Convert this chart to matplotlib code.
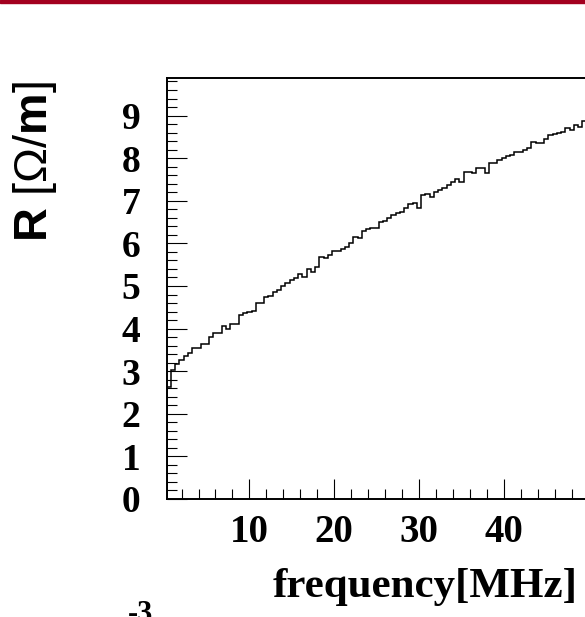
import numpy as np
import matplotlib
matplotlib.use("Agg")
import matplotlib.pyplot as plt
from matplotlib.ticker import MultipleLocator, FixedLocator
from matplotlib.patches import Rectangle

# ---------------- data ----------------
bin_low = 0.25          # MHz, lower edge of first bin
bin_width = 0.5         # MHz
resistance = [
    2.62, 3.03, 3.17, 3.26, 3.36, 3.42, 3.55, 3.55, 3.64, 3.64,
    3.81, 3.90, 3.90, 4.06, 4.00, 4.10, 4.10, 4.33, 4.36, 4.40,
    4.42, 4.59, 4.59, 4.73, 4.77, 4.87, 4.91, 5.01, 5.06, 5.13,
    5.18, 5.28, 5.20, 5.39, 5.34, 5.45, 5.69, 5.65, 5.73, 5.81,
    5.83, 5.86, 5.92, 6.02, 6.15, 6.13, 6.28, 6.33, 6.37, 6.37,
    6.51, 6.53, 6.59, 6.67, 6.72, 6.74, 6.82, 6.92, 6.95, 6.82,
    7.13, 7.15, 7.09, 7.20, 7.26, 7.31, 7.38, 7.45, 7.50, 7.45,
    7.68, 7.68, 7.66, 7.76, 7.78, 7.66, 7.88, 7.89, 7.96, 8.00,
    8.05, 8.08, 8.15, 8.15, 8.19, 8.23, 8.39, 8.36, 8.35, 8.44,
    8.54, 8.56, 8.60, 8.62, 8.70, 8.66, 8.78, 8.74, 8.88, 8.91,
]
x_major_ticks = [10, 20, 30, 40]
y_major_ticks = [0, 1, 2, 3, 4, 5, 6, 7, 8, 9]
x_title = "frequency[MHz]"
y_title = r"$\mathbf{R}\ [\Omega/\mathbf{m}]$"
exponent_text = "-3"

# ---------------- style ----------------
plt.rcParams["mathtext.fontset"] = "custom"
plt.rcParams["mathtext.rm"] = "Liberation Sans"
plt.rcParams["mathtext.bf"] = "Liberation Sans:bold"
plt.rcParams["mathtext.it"] = "Liberation Sans:italic"

W, H = 585, 617
fig = plt.figure(figsize=(W / 100, H / 100), dpi=100)
fig.patch.set_facecolor("white")

edges = bin_low + bin_width * np.arange(len(resistance) + 1)

left_px, top_px, bottom_px = 166.7, 78.3, 499.0
px_per_unit_x = 8.48
right_px = left_px + (edges[-1] - edges[0]) * px_per_unit_x
ax = fig.add_axes([left_px / W, (H - bottom_px) / H,
                   (right_px - left_px) / W, (bottom_px - top_px) / H])

ax.stairs(resistance, edges, color="black", lw=1.1)
ax.set_xlim(edges[0], edges[-1])
ax.set_ylim(0, 9.875)

ax.xaxis.set_major_locator(FixedLocator(x_major_ticks + [50]))
ax.xaxis.set_minor_locator(MultipleLocator(2))
ax.yaxis.set_major_locator(FixedLocator(y_major_ticks))
ax.yaxis.set_minor_locator(MultipleLocator(0.2))
ax.set_xticklabels([str(t) for t in x_major_ticks] + [""])
ax.set_yticklabels([str(t) for t in y_major_ticks])

ax.tick_params(axis="both", which="major", direction="in", length=14.4,
               width=0.8, color="black")
ax.tick_params(axis="both", which="minor", direction="in", length=7.2,
               width=0.8, color="black")
ax.tick_params(axis="x", which="major", pad=11, labelsize=28)
ax.tick_params(axis="y", which="major", pad=19, labelsize=27)

for lab in ax.get_xticklabels() + ax.get_yticklabels():
    lab.set_fontfamily("Liberation Serif")
    lab.set_fontweight("bold")

for side in ["top", "left", "bottom", "right"]:
    ax.spines[side].set_linewidth(1.4)
    ax.spines[side].set_color("black")

# axis titles
fig.text(578 / W, (H - 597) / H, x_title, ha="right", va="baseline",
         fontsize=31, fontfamily="Liberation Serif", fontweight="bold")
fig.text(35 / W, 1 - 81 / H, y_title, ha="center", va="top", rotation=90,
         fontsize=33.7)

# partial exponent of the pad below (cut by the canvas edge, as in the original)
fig.text(128 / W, 1 - 600 / H, exponent_text, ha="left", va="top",
         fontsize=22, fontfamily="Liberation Serif", fontweight="bold")

# dark red band at the top of the canvas
fig.patches.append(Rectangle((0, 1 - 2.5 / H), 1, 2.5 / H,
                             transform=fig.transFigure, color="#a3001f",
                             zorder=10))

fig.savefig("out.png", dpi=100)
